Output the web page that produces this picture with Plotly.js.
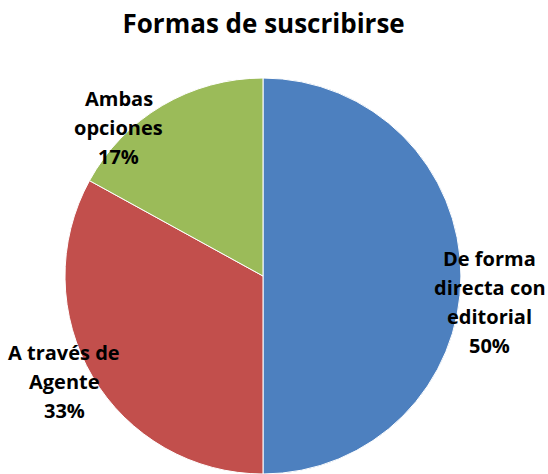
<!DOCTYPE html>
<html>
<head>
<meta charset="utf-8">
<script src="https://cdn.plot.ly/plotly-3.0.1.min.js"></script>
<style>html,body{margin:0;padding:0;background:#fff;}#chart{width:548px;height:474px;}</style>
</head>
<body>
<div id="chart"></div>
<script>
const categories = ["De forma directa con editorial", "A través de Agente", "Ambas opciones"];
const labelLines = [["De forma", "directa con", "editorial"], ["A través de", "Agente"], ["Ambas", "opciones"]];
const values = [50, 33, 17];
const colors = ["#4d80bf", "#c24f4c", "#9bbb59"];
const labelPos = [[0.894, 0.363], [0.117, 0.196], [0.217, 0.730]];

const total = values.reduce((a, b) => a + b, 0);
const annotations = [];
categories.forEach((c, i) => {
  const lines = labelLines[i].concat([Math.round(values[i] / total * 100) + "%"]);
  const n = lines.length;
  lines.forEach((t, k) => {
    annotations.push({
      text: t, x: labelPos[i][0], y: labelPos[i][1], xref: "paper", yref: "paper",
      xanchor: "center", yanchor: "middle", showarrow: false,
      yshift: -(k - (n - 1) / 2) * 29,
      font: {family: "Open Sans", size: 20, color: "#000", weight: "bold"}
    });
  });
});

const data = [{
  type: "pie",
  labels: categories,
  values: values,
  sort: false,
  direction: "clockwise",
  rotation: 0,
  textinfo: "none",
  hoverinfo: "label+percent",
  marker: {colors: colors, line: {color: "#ffffff", width: 1}},
  domain: {x: [0.1186, 0.8412], y: [0.0, 0.8354]},
  showlegend: false
}];

const layout = {
  width: 548, height: 474,
  margin: {l: 0, r: 0, t: 0, b: 0},
  paper_bgcolor: "#ffffff",
  title: {text: "<b>Formas de suscribirse</b>", x: 0.481, xanchor: "center", y: 0.95, yanchor: "middle",
          font: {family: "Open Sans", size: 26, color: "#000"}},
  annotations: annotations,
  showlegend: false
};

Plotly.newPlot("chart", data, layout, {staticPlot: true});
</script>
</body>
</html>
